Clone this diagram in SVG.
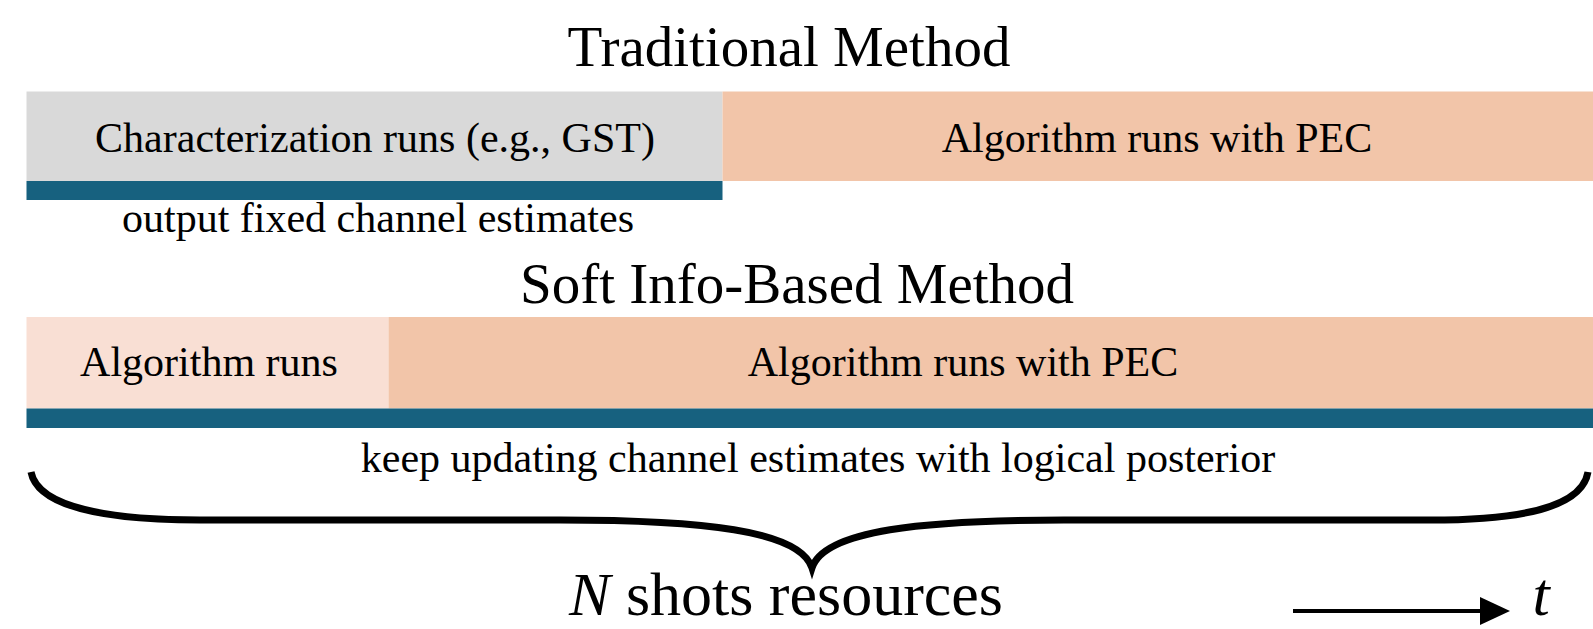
<svg xmlns="http://www.w3.org/2000/svg" width="1593" height="629" viewBox="0 0 1593 629">
<defs>
<style>
text{font-family:"Liberation Serif","Times New Roman",serif;fill:#000;text-anchor:middle}
.title{font-size:57px}
.lbl{font-size:42px}
.big{font-size:62px}
.it{font-style:italic}
.gray{fill:#D9D9D9}
.peach{fill:#F2C5A9}
.pink{fill:#F9DFD4}
.blue{fill:#17617F}
</style>
<marker id="ah" markerWidth="30" markerHeight="28" refX="2" refY="14" orient="auto" markerUnits="userSpaceOnUse" viewBox="0 0 30 28">
<path d="M0,0 L30,14 L0,28 Z" fill="#000"/>
</marker>
</defs>
<rect width="1593" height="629" fill="#fff"/>
<g id="title-traditional"><text class="title" x="789" y="66">Traditional Method</text></g>
<g id="char-runs">
<rect class="gray" x="26.5" y="91.5" width="696" height="89.5"/>
<text class="lbl" x="375" y="152">Characterization runs (e.g., GST)</text>
</g>
<g id="alg-pec-top">
<rect class="peach" x="722.5" y="91.5" width="871" height="89.5"/>
<text class="lbl" x="1157" y="152">Algorithm runs with PEC</text>
</g>
<g id="fixed-bar">
<rect class="blue" x="26.5" y="181" width="696" height="19"/>
<text class="lbl" x="378" y="232">output fixed channel estimates</text>
</g>
<g id="title-soft"><text class="title" x="797" y="303">Soft Info-Based Method</text></g>
<g id="alg-runs">
<rect class="pink" x="26.5" y="317" width="362" height="91.5"/>
<text class="lbl" x="209" y="376">Algorithm runs</text>
</g>
<g id="alg-pec-bottom">
<rect class="peach" x="388.5" y="317" width="1205" height="91.5"/>
<text class="lbl" x="963" y="376">Algorithm runs with PEC</text>
</g>
<g id="update-bar">
<rect class="blue" x="26.5" y="408.5" width="1567" height="19.5"/>
<text class="lbl" x="818" y="472">keep updating channel estimates with logical posterior</text>
</g>
<g id="connectors">
<path d="M31,472 C38,508 110,520 200,520 L560,520 C700,520 800,530 812,568 C824,530 924,520 1064,520 L1430,520 C1520,520 1582,508 1588,472" fill="none" stroke="#000" stroke-width="7"/>
<line x1="1293" y1="611" x2="1482" y2="611" stroke="#000" stroke-width="4" marker-end="url(#ah)"/>
</g>
<g id="n-shots"><text class="big" x="786" y="615"><tspan class="it">N</tspan> shots resources</text></g>
<g id="t-label"><text class="big it" x="1541" y="615">t</text></g>
</svg>
